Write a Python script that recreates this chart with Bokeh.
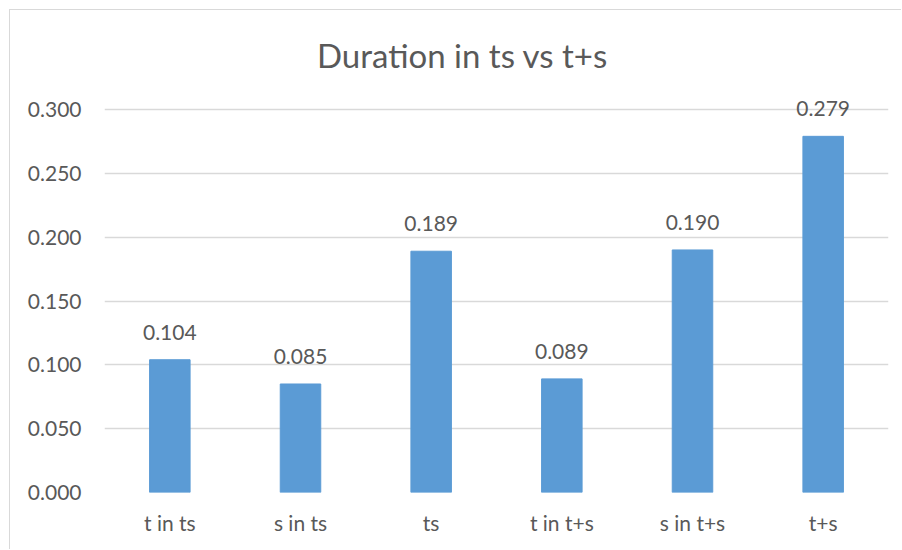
from bokeh.plotting import figure
from bokeh.models import ColumnDataSource, LabelSet, Range1d, FactorRange, NumeralTickFormatter, FixedTicker, Label
from bokeh.core.properties import value
from bokeh.embed import file_html
from bokeh.resources import INLINE

categories = ["t in ts", "s in ts", "ts", "t in t+s", "s in t+s", "t+s"]
durations = [0.104, 0.085, 0.189, 0.089, 0.190, 0.279]
labels = ["0.104", "0.085", "0.189", "0.089", "0.190", "0.279"]
y_ticks = [0.0, 0.05, 0.10, 0.15, 0.20, 0.25, 0.30]
title_text = "Duration in ts vs t+s"

FONT = "Lato"
TXT = "#595959"

src = ColumnDataSource(dict(cat=categories, val=durations, lab=labels))

p = figure(width=892, height=540, x_range=FactorRange(*categories), y_range=Range1d(0, 0.3619),
           output_backend="svg", toolbar_location=None,
           min_border_left=94, min_border_right=14, min_border_top=20, min_border_bottom=58)
p.styles = {"margin-left": "9px", "margin-top": "9px",
            "border-left": "1px solid #D9D9D9", "border-top": "1px solid #D9D9D9"}
p.outline_line_color = None
p.background_fill_color = "white"
p.border_fill_color = "white"

p.vbar(x="cat", top="val", width=0.31, source=src, color="#5B9BD5")

p.add_layout(LabelSet(x="cat", y="val", text="lab", source=src, text_align="center",
                      text_baseline="alphabetic", y_offset=20, text_font=value(FONT),
                      text_font_size=value("21px"), text_color=TXT))

p.yaxis.ticker = FixedTicker(ticks=y_ticks)
p.yaxis.formatter = NumeralTickFormatter(format="0.000")
for ax in (p.xaxis, p.yaxis):
    ax.axis_line_color = None
    ax.major_tick_line_color = None
    ax.minor_tick_line_color = None
    ax.major_tick_out = 0
    ax.major_tick_in = 0
    ax.minor_tick_out = 0
    ax.major_label_text_font = FONT
    ax.major_label_text_font_size = "21px"
    ax.major_label_text_color = TXT
p.yaxis.major_label_standoff = 23
p.xaxis.major_label_standoff = 17

p.xgrid.grid_line_color = None
p.ygrid.grid_line_color = "#D9D9D9"
p.ygrid.grid_line_width = 1.3

# title placed in data space inside the (extended) frame
p.add_layout(Label(x=2.74, y=0.3427, text=title_text,
                   text_align="center", text_baseline="middle", text_font=FONT,
                   text_font_size="33px", text_color=TXT))

open("out.html", "w").write(file_html(p, INLINE))
